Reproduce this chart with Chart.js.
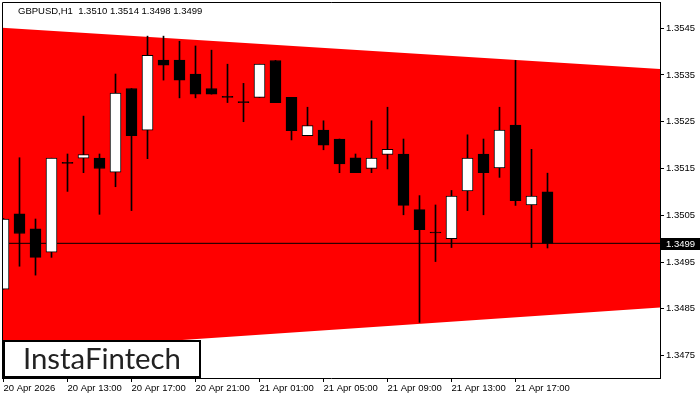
<!DOCTYPE html>
<html>
<head>
<meta charset="utf-8">
<title>GBPUSD H1</title>
<script src="https://cdn.jsdelivr.net/npm/chart.js@4.4.1/dist/chart.umd.min.js"></script>
<style>
  html, body { margin: 0; padding: 0; background: #fff; }
  #wrap { width: 700px; height: 400px; position: relative; }
</style>
</head>
<body>
<div id="wrap"><canvas id="chart" width="700" height="400"></canvas></div>
<script>
// GBPUSD H1 candles, 20 Apr 09:00 -> 21 Apr 19:00
const symbol = 'GBPUSD,H1';
const firstDateLabel = '20 Apr 2026';
const times = [
  '20 Apr 09:00', '20 Apr 10:00', '20 Apr 11:00', '20 Apr 12:00', '20 Apr 13:00', '20 Apr 14:00',
  '20 Apr 15:00', '20 Apr 16:00', '20 Apr 17:00', '20 Apr 18:00', '20 Apr 19:00', '20 Apr 20:00',
  '20 Apr 21:00', '20 Apr 22:00', '20 Apr 23:00', '21 Apr 00:00', '21 Apr 01:00', '21 Apr 02:00',
  '21 Apr 03:00', '21 Apr 04:00', '21 Apr 05:00', '21 Apr 06:00', '21 Apr 07:00', '21 Apr 08:00',
  '21 Apr 09:00', '21 Apr 10:00', '21 Apr 11:00', '21 Apr 12:00', '21 Apr 13:00', '21 Apr 14:00',
  '21 Apr 15:00', '21 Apr 16:00', '21 Apr 17:00', '21 Apr 18:00', '21 Apr 19:00'
];
const opens  = [1.34892, 1.35053, 1.35021, 1.34971, 1.35161, 1.35172, 1.35172, 1.35142, 1.35321, 1.35232,
                1.35382, 1.35382, 1.35352, 1.35321, 1.35302, 1.35291, 1.35302, 1.35381, 1.35302, 1.35220,
                1.35232, 1.35213, 1.35173, 1.35150, 1.35180, 1.35181, 1.35062, 1.35012, 1.35000, 1.35102,
                1.35181, 1.35151, 1.35243, 1.35072, 1.35100];
const highs  = [1.35043, 1.35173, 1.35042, 1.35172, 1.35181, 1.35262, 1.35181, 1.35352, 1.35321, 1.35433,
                1.35433, 1.35422, 1.35412, 1.35403, 1.35373, 1.35332, 1.35373, 1.35381, 1.35302, 1.35281,
                1.35252, 1.35213, 1.35181, 1.35252, 1.35281, 1.35213, 1.35092, 1.35072, 1.35103, 1.35222,
                1.35213, 1.35281, 1.35381, 1.35191, 1.35140];
const lows   = [1.34892, 1.34941, 1.34922, 1.34960, 1.35101, 1.35141, 1.35052, 1.35111, 1.35060, 1.35171,
                1.35339, 1.35301, 1.35301, 1.35309, 1.35291, 1.35250, 1.35302, 1.35291, 1.35211, 1.35220,
                1.35190, 1.35141, 1.35141, 1.35141, 1.35149, 1.35051, 1.34821, 1.34951, 1.34981, 1.35060,
                1.35051, 1.35131, 1.35071, 1.34981, 1.34980];
const closes = [1.35042, 1.35011, 1.34960, 1.35172, 1.35161, 1.35180, 1.35150, 1.35311, 1.35220, 1.35392,
                1.35371, 1.35339, 1.35309, 1.35309, 1.35302, 1.35291, 1.35373, 1.35291, 1.35231, 1.35242,
                1.35200, 1.35160, 1.35141, 1.35172, 1.35191, 1.35071, 1.35019, 1.35012, 1.35091, 1.35172,
                1.35141, 1.35232, 1.35081, 1.35091, 1.34990];

// pattern channel (left edge, right edge)
const channelTop    = [1.35451, 1.35363];
const channelBottom = [1.34757, 1.34853];

const yTicks = [1.3475, 1.3485, 1.3495, 1.3505, 1.3515, 1.3525, 1.3535, 1.3545];
const xTickIdx = [0, 4, 8, 12, 16, 20, 24, 28, 32];

// visible window (bar index / price)
const xMin = -0.09375, xMax = 41.03125;
const yMin = 1.34702, yMax = 1.35506;

const last = opens.length - 1;
const lastPrice = closes[last];
const header = symbol + '  ' + [opens[last], highs[last], lows[last], closes[last]].map(v => v.toFixed(4)).join(' ');

const AXIS_FONT = { family: 'Liberation Sans', size: 9.5 };

const bodies = opens.map((o, i) => ({ x: i, y: [o, closes[i]] }));
const wicks = lows.map((l, i) => ({ x: i, y: [l, highs[i]] }));

const overlay = {
  id: 'overlay',
  afterDatasetsDraw(chart) {
    const { ctx, chartArea: a } = chart;
    ctx.save();
    ctx.strokeStyle = '#000';
    ctx.lineWidth = 1;
    ctx.beginPath();
    ctx.moveTo(a.left + 0.5, a.bottom);
    ctx.lineTo(a.left + 0.5, a.top + 0.5);
    ctx.lineTo(a.right, a.top + 0.5);
    ctx.stroke();
    ctx.restore();
  },
  afterDraw(chart) {
    const { ctx, chartArea: a, scales } = chart;
    ctx.save();
    ctx.font = AXIS_FONT.size + 'px ' + AXIS_FONT.family;
    ctx.fillStyle = '#000';
    ctx.textAlign = 'left';
    ctx.textBaseline = 'alphabetic';
    ctx.fillText(header, 18, 14);

    // last price tag on the price scale
    const py = scales.y.getPixelForValue(lastPrice);
    ctx.fillStyle = '#000';
    ctx.fillRect(a.right + 1, Math.round(py) - 5, 40, 12);
    ctx.fillStyle = '#fff';
    ctx.textBaseline = 'middle';
    ctx.fillText(lastPrice.toFixed(4), a.right + 6, py + 1);

    // logo box
    ctx.fillStyle = '#fff';
    ctx.fillRect(3, 340, 198, 38);
    ctx.strokeStyle = '#000';
    ctx.lineWidth = 2;
    ctx.strokeRect(4, 341, 196, 36);
    const logo = 'InstaFintech';
    ctx.font = '26px Lato';
    const w = ctx.measureText(logo).width;
    ctx.font = (26 * 158 / w).toFixed(2) + 'px Lato';
    ctx.fillStyle = '#222';
    ctx.textBaseline = 'alphabetic';
    ctx.fillText(logo, 23, 369);
    ctx.restore();
  }
};

new Chart(document.getElementById('chart'), {
  type: 'bar',
  data: {
    datasets: [
      {
        type: 'bar', data: bodies, order: 0, grouped: false,
        backgroundColor: opens.map((o, i) => closes[i] > o ? '#ffffff' : '#000000'),
        borderColor: '#000', borderWidth: 1, borderSkipped: false,
        barThickness: 11, minBarLength: 1
      },
      {
        type: 'bar', data: wicks, order: 1, grouped: false,
        backgroundColor: '#000', borderWidth: 0, barThickness: 1, minBarLength: 1
      },
      {
        type: 'line', order: 2,
        data: [{ x: xMin, y: lastPrice }, { x: xMax, y: lastPrice }],
        borderColor: '#000', borderWidth: 1, pointRadius: 0, fill: false
      },
      {
        type: 'line', order: 3,
        data: [{ x: xMin, y: channelTop[0] }, { x: xMax, y: channelTop[1] }],
        borderWidth: 0, pointRadius: 0, backgroundColor: '#ff0000', fill: '+1'
      },
      {
        type: 'line', order: 4,
        data: [{ x: xMin, y: channelBottom[0] }, { x: xMax, y: channelBottom[1] }],
        borderWidth: 0, pointRadius: 0, fill: false
      }
    ]
  },
  options: {
    responsive: false,
    animation: false,
    events: [],
    layout: { padding: { left: 2, top: 2, right: 0, bottom: 0 } },
    plugins: { legend: { display: false }, tooltip: { enabled: false } },
    scales: {
      x: {
        type: 'linear', min: xMin, max: xMax, bounds: 'data', offset: false,
        afterFit(scale) { scale.height = 22; scale.paddingLeft = 0; scale.paddingRight = 0; },
        afterBuildTicks(scale) { scale.ticks = xTickIdx.map(v => ({ value: v })); },
        grid: { display: true, drawOnChartArea: false, drawTicks: true, tickLength: 4, color: '#000', offset: false },
        border: { display: true, color: '#000' },
        ticks: {
          autoSkip: false, maxRotation: 0, align: 'start', padding: 1, color: '#000', font: AXIS_FONT,
          callback: v => v === 0 ? firstDateLabel : times[v]
        }
      },
      y: {
        type: 'linear', position: 'right', min: yMin, max: yMax, bounds: 'data',
        afterFit(scale) { scale.width = 40; scale.paddingTop = 0; scale.paddingBottom = 0; },
        afterBuildTicks(scale) { scale.ticks = yTicks.map(v => ({ value: v })); },
        grid: { display: true, drawOnChartArea: false, drawTicks: true, tickLength: 4, color: '#000' },
        border: { display: true, color: '#000' },
        ticks: { padding: 2, color: '#000', font: AXIS_FONT, callback: v => v.toFixed(4) }
      }
    }
  },
  plugins: [overlay]
});
</script>
</body>
</html>
